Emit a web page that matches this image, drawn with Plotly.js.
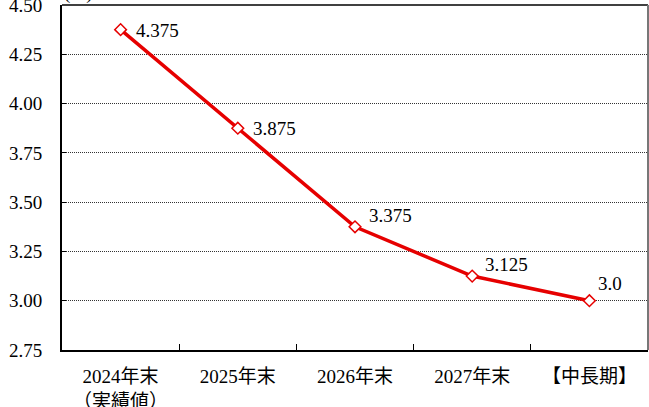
<!DOCTYPE html>
<html>
<head>
<meta charset="utf-8">
<script src="https://cdn.plot.ly/plotly-3.0.1.min.js"></script>
<style>html,body{margin:0;padding:0;background:#fff;}#chart{width:649px;height:407px;}</style>
</head>
<body>
<div id="chart"></div>
<script>
var categories = ["2024年末<br>（実績値）", "2025年末", "2026年末", "2027年末", "【中長期】"];
var rates = [4.375, 3.875, 3.375, 3.125, 3.0];
var rateLabels = ["4.375", "3.875", "3.375", "3.125", "3.0"];
var yTickVals = [2.75, 3.00, 3.25, 3.50, 3.75, 4.00, 4.25, 4.50];
var unitLabel = "(%)";

// label placement styles (pixel offsets from each marker)
var labelDx = [13, 13, 12, 11, 7];
var labelDy = [-1, 0, 11, 12, 17];

var FONT = '"Liberation Serif", "Times New Roman", "Noto Sans CJK JP", serif';

var trace = {
  x: categories,
  y: rates,
  type: "scatter",
  mode: "lines+markers",
  line: {color: "#e60000", width: 3.5},
  marker: {symbol: "diamond", size: 9, color: "#ffffff", line: {color: "#e60000", width: 1.5}},
  cliponaxis: false,
  hoverinfo: "skip"
};

var annotations = categories.map(function (c, i) {
  return {
    x: c, y: rates[i], xref: "x", yref: "y", text: rateLabels[i],
    showarrow: false, xanchor: "left", yanchor: "middle",
    xshift: labelDx[i], yshift: labelDy[i],
    font: {family: FONT, size: 19, color: "#000"}
  };
});
annotations.push({
  text: unitLabel, xref: "paper", yref: "paper", x: 0, y: 1, xanchor: "left", yanchor: "middle",
  yshift: 12, showarrow: false, font: {family: FONT, size: 19, color: "#000"}
});

var layout = {
  width: 649, height: 407,
  margin: {l: 62, r: 1, t: 5, b: 57},
  paper_bgcolor: "#fff", plot_bgcolor: "#fff",
  showlegend: false,
  font: {family: FONT, size: 19, color: "#000"},
  xaxis: {
    type: "category",
    range: [-0.5, categories.length - 0.5],
    autorange: false,
    showgrid: false,
    showline: true, linecolor: "#000", linewidth: 2,
    ticks: "inside", tickson: "boundaries", ticklen: 6, tickcolor: "#000", tickwidth: 1,
    tickfont: {family: FONT, size: 19, color: "#000"},
    ticklabelstandoff: 8,
    ticklabeloverflow: "allow",
    fixedrange: true, zeroline: false
  },
  yaxis: {
    range: [2.75, 4.5],
    autorange: false,
    tickvals: yTickVals,
    tickformat: ".2f",
    showgrid: true, gridcolor: "#333", griddash: "1px,1px", gridwidth: 1,
    showline: true, linecolor: "#000", linewidth: 2,
    ticks: "inside", ticklen: 4, tickcolor: "#000",
    tickfont: {family: FONT, size: 19, color: "#000"},
    ticklabelstandoff: 14,
    ticklabeloverflow: "allow",
    zeroline: false, fixedrange: true
  },
  shapes: [
    {type: "line", xref: "paper", yref: "paper", x0: 0, x1: 1, y0: 1, y1: 1, line: {color: "#000", width: 1.5}},
    {type: "line", xref: "paper", yref: "paper", x0: 1, x1: 1, y0: 0, y1: 1, line: {color: "#777", width: 2}}
  ],
  annotations: annotations
};

Plotly.newPlot("chart", [trace], layout, {displayModeBar: false, staticPlot: true});
</script>
</body>
</html>
